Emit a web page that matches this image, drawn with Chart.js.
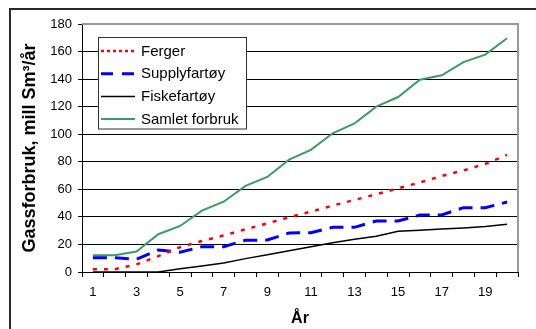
<!DOCTYPE html>
<html>
<head>
<meta charset="utf-8">
<script src="https://cdn.jsdelivr.net/npm/chart.js@4/dist/chart.umd.min.js"></script>
<style>
  body { margin: 0; background: #fff; }
  #wrap { position: relative; width: 536px; height: 329px; }
</style>
</head>
<body>
<div id="wrap"><canvas id="chart" width="536" height="329"></canvas></div>
<script>
// years 1..20
const years = ['1','2','3','4','5','6','7','8','9','10','11','12','13','14','15','16','17','18','19','20'];
const ferger = [2, 2, 5.5, 11.5, 18, 22.5, 26.5, 31, 35.3, 39.7, 43.8, 48.2, 52.3, 56.4, 60.7, 65, 69.7, 73.7, 78.5, 85];
const supply = [10.3, 10.3, 9.3, 16, 14.3, 18.4, 18.4, 23, 23.2, 28.3, 28.5, 32.4, 32.4, 37, 37, 41.4, 41.4, 46.7, 46.7, 50.8];
const fiske = [0, 0, 0, 0, 2.4, 4.4, 6.5, 9.7, 12.6, 15.4, 18.3, 21.3, 23.8, 26, 29.5, 30.3, 31.2, 32, 33, 34.6];
const samlet = [12.2, 12.2, 14.8, 27.4, 33.4, 44.5, 51, 62.5, 69, 81.5, 88.7, 100.7, 107.8, 120, 127, 139.5, 142.8, 152.3, 157.8, 169.7];
const seriesNames = ['Ferger', 'Supplyfartøy', 'Fiskefartøy', 'Samlet forbruk'];
const yTicks = [0, 20, 40, 60, 80, 100, 120, 140, 160, 180];

const FONT = "'Liberation Sans', Arial, sans-serif";

// legend sample dashes differ a bit from the plotted ones
const legendDash = [[3, 3], [12, 9], [], []];

const framePlugin = {
  id: 'frame',
  beforeDraw(chart) {
    const ctx = chart.ctx;
    ctx.save();
    ctx.strokeStyle = '#2a2a2a';
    ctx.lineWidth = 2;
    ctx.beginPath();
    ctx.moveTo(9, 9);
    ctx.lineTo(536, 9);
    ctx.moveTo(10, 8);
    ctx.lineTo(10, 329);
    ctx.stroke();
    ctx.restore();
  },
  afterDraw(chart) {
    const ctx = chart.ctx;
    const a = chart.chartArea;
    ctx.save();
    // plot area border (top/right)
    ctx.strokeStyle = '#9a9a9a';
    ctx.lineWidth = 2;
    ctx.beginPath();
    ctx.moveTo(a.left, a.top);
    ctx.lineTo(a.right, a.top);
    ctx.lineTo(a.right, a.bottom);
    ctx.stroke();

    // legend box
    const bx = 98.5, by = 37.5, bw = 148, bh = 91.5;
    ctx.fillStyle = '#fff';
    ctx.fillRect(bx, by, bw, bh);
    ctx.strokeStyle = '#333';
    ctx.lineWidth = 1;
    ctx.strokeRect(bx, by, bw, bh);
    ctx.font = '15px ' + FONT;
    ctx.textBaseline = 'middle';
    chart.data.datasets.forEach((ds, i) => {
      const y = 51 + i * 22.7;
      ctx.strokeStyle = ds.borderColor;
      ctx.lineWidth = ds.borderWidth;
      ctx.setLineDash(legendDash[i]);
      ctx.beginPath();
      ctx.moveTo(101, y);
      ctx.lineTo(135, y);
      ctx.stroke();
      ctx.setLineDash([]);
      ctx.fillStyle = '#000';
      ctx.fillText(ds.label, 141, y + 0.5);
    });
    ctx.restore();
  }
};

new Chart(document.getElementById('chart'), {
  type: 'line',
  data: {
    labels: years,
    datasets: [
      { label: seriesNames[0], data: ferger, borderColor: '#ff0000', borderWidth: 2.5, borderDash: [4, 7] },
      { label: seriesNames[1], data: supply, borderColor: '#0000ff', borderWidth: 3, borderDash: [14, 8] },
      { label: seriesNames[2], data: fiske, borderColor: '#000000', borderWidth: 1.5 },
      { label: seriesNames[3], data: samlet, borderColor: '#3c9a6a', borderWidth: 2 }
    ]
  },
  options: {
    responsive: false,
    animation: false,
    layout: { padding: { left: 10, right: 18, top: 24, bottom: 0 } },
    elements: { point: { radius: 0 }, line: { tension: 0 } },
    plugins: { legend: { display: false }, tooltip: { enabled: false } },
    scales: {
      x: {
        offset: true,
        grid: { display: true, drawOnChartArea: false, drawTicks: true, tickLength: 5, color: '#000', offset: true },
        border: { color: '#000', width: 1 },
        ticks: {
          color: '#000', font: { family: FONT, size: 13 }, padding: 8,
          autoSkip: false, maxRotation: 0,
          callback: (v, i) => (i % 2 === 0 ? years[i] : '')
        },
        title: { display: true, text: 'År', color: '#000', font: { family: FONT, size: 16, weight: 'bold' }, padding: { top: 0, bottom: 1 } },
        afterFit: s => { s.height = 57; }
      },
      y: {
        min: yTicks[0],
        max: yTicks[yTicks.length - 1],
        afterBuildTicks: s => { s.ticks = yTicks.map(v => ({ value: v })); },
        grid: { color: '#000', lineWidth: 1, tickLength: 4 },
        border: { color: '#000', width: 1 },
        ticks: { color: '#000', font: { family: FONT, size: 13 }, padding: 6 },
        title: { display: true, text: 'Gassforbruk, mill Sm³/år', color: '#000', font: { family: FONT, size: 18, weight: 'bold' }, padding: { top: 9, bottom: 0 } },
        afterFit: s => { s.width = 72; }
      }
    }
  },
  plugins: [framePlugin]
});
</script>
</body>
</html>
